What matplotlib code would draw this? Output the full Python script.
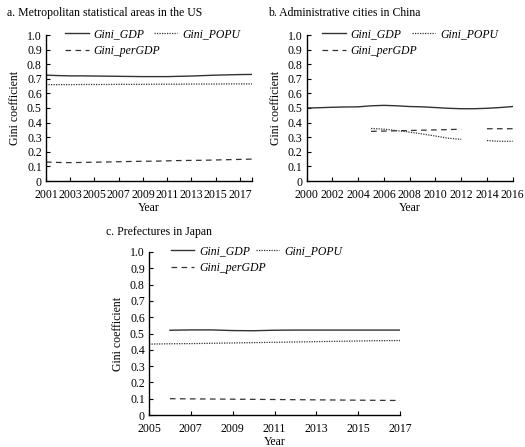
import numpy as np
import matplotlib
matplotlib.use("Agg")
import matplotlib.pyplot as plt

plt.rcParams['font.family'] = ['Liberation Serif', 'DejaVu Serif']
plt.rcParams['font.size'] = 8

# a. US metropolitan statistical areas
us_years = list(range(2001, 2019))
us_gdp = [0.725, 0.722, 0.720, 0.720, 0.719, 0.718, 0.717, 0.716, 0.715, 0.715,
          0.715, 0.717, 0.719, 0.722, 0.725, 0.727, 0.729, 0.730]
us_popu = [0.660, 0.660, 0.660, 0.661, 0.661, 0.661, 0.662, 0.662, 0.662, 0.663,
           0.663, 0.663, 0.664, 0.664, 0.664, 0.665, 0.665, 0.665]
us_pergdp = [0.130, 0.127, 0.126, 0.127, 0.129, 0.130, 0.132, 0.134, 0.135, 0.136,
             0.138, 0.140, 0.141, 0.142, 0.144, 0.146, 0.148, 0.150]

# b. Chinese administrative cities (no data for 2013)
cn_years = list(range(2000, 2017))
cn_gdp = [0.500, 0.502, 0.505, 0.507, 0.508, 0.515, 0.518, 0.515, 0.510, 0.508,
          0.503, 0.498, 0.495, 0.495, 0.498, 0.503, 0.510]
cn_popu = [np.nan] * 5 + [0.360, 0.355, 0.345, 0.335, 0.322, 0.308, 0.293, 0.285,
                          np.nan, 0.277, 0.272, 0.272]
cn_pergdp = [np.nan] * 5 + [0.340, 0.342, 0.344, 0.346, 0.348, 0.350, 0.352, 0.355,
                            np.nan, 0.358, 0.358, 0.358]

# c. Japanese prefectures
jp_years = list(range(2005, 2018))
jp_gdp = [np.nan, 0.520, 0.522, 0.522, 0.518, 0.517, 0.520, 0.521, 0.521, 0.521,
          0.521, 0.521, 0.521]
jp_popu = [0.435, 0.437, 0.438, 0.440, 0.442, 0.444, 0.446, 0.448, 0.450, 0.452,
           0.454, 0.456, 0.457]
jp_pergdp = [np.nan, 0.100, 0.099, 0.098, 0.097, 0.096, 0.095, 0.094, 0.093, 0.092,
             0.091, 0.090, 0.089]

col = '#333333'
fig = plt.figure(figsize=(5.25, 4.47), dpi=100)


def panel(rect, years, gdp, popu, pergdp, xlim, xticks, title, title_xy, leg_x, colsp):
    ax = fig.add_axes(rect)
    l1, = ax.plot(years, gdp, color=col, lw=1.0, label='Gini_GDP')
    l2, = ax.plot(years, pergdp, color=col, lw=0.9, dashes=(4.5, 3.5), label='Gini_perGDP')
    l3, = ax.plot(years, popu, color=col, lw=0.9, dashes=(1, 1), label='Gini_POPU')
    ax.set_xlim(*xlim)
    ax.set_ylim(0, 1.0)
    ax.set_xticks(xticks)
    ax.set_xticks([xlim[1]], minor=True)
    ax.set_yticks(np.arange(0, 1.01, 0.1))
    ax.set_yticklabels(['0'] + ['%.1f' % v for v in np.arange(0.1, 1.01, 0.1)])
    for s in ['top', 'right']:
        ax.spines[s].set_visible(False)
    for s in ['left', 'bottom']:
        ax.spines[s].set_linewidth(1.0)
    ax.tick_params(which='both', direction='in', length=3, width=0.8, pad=3,
                   labelsize=8.5)
    ax.tick_params(axis='x', which='both', pad=6)
    ax.set_xlabel('Year', fontsize=8.5, labelpad=0.5)
    ax.set_ylabel('Gini coefficient', fontsize=8.5, labelpad=4)
    h = rect[3] * 447
    kw = dict(frameon=False, handlelength=2.0, handletextpad=0.4, borderpad=0,
              borderaxespad=0, loc='upper left', prop={'style': 'italic', 'size': 8.5})
    top = ax.legend([l1, l3], ['Gini_GDP', 'Gini_POPU'], ncol=2, columnspacing=colsp,
                    bbox_to_anchor=(leg_x, 1 + 7 / h), **kw)
    ax.add_artist(top)
    ax.legend([l2], ['Gini_perGDP'], bbox_to_anchor=(leg_x, 1 - 10 / h), **kw)
    fig.text(title_xy[0] / 525, 1 - title_xy[1] / 447, title, fontsize=8.5,
             va='center', ha='left')
    return ax


panel([46 / 525, 1 - 181 / 447, 206 / 525, 146 / 447], us_years, us_gdp, us_popu,
      us_pergdp, (2001, 2018), range(2001, 2018, 2),
      'a. Metropolitan statistical areas in the US', (7, 13), 0.092, 0.8)
panel([306.7 / 525, 1 - 181 / 447, 206 / 525, 146 / 447], cn_years, cn_gdp, cn_popu,
      cn_pergdp, (2000, 2016), range(2000, 2017, 2),
      'b. Administrative cities in China', (268, 13), 0.074, 0.9)
panel([149 / 525, 1 - 415 / 447, 251 / 525, 163 / 447], jp_years, jp_gdp, jp_popu,
      jp_pergdp, (2005, 2017), range(2005, 2018, 2),
      'c. Prefectures in Japan', (106, 232), 0.086, 0.5)

fig.savefig('out.png', dpi=100)
